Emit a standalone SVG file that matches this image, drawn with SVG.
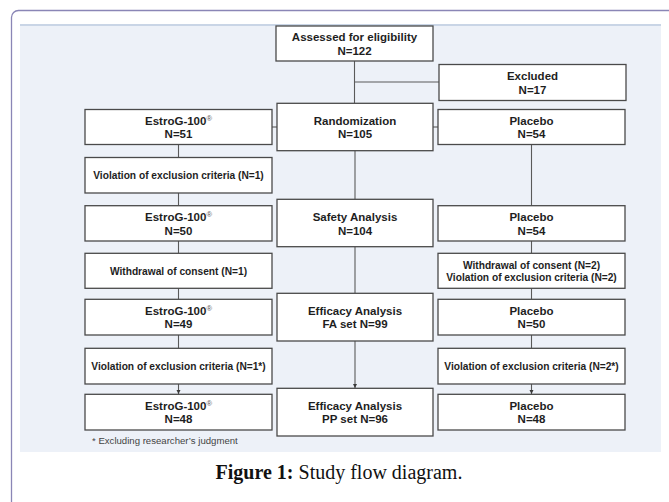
<svg xmlns="http://www.w3.org/2000/svg" width="669" height="502" viewBox="0 0 669 502">
<style>
.card{fill:#ffffff;stroke:#8a86b6;stroke-width:1.3}
.panel{fill:#edf1f8}
.panelTop{fill:#c9d5e6}
.box{fill:#ffffff;stroke:#4a4a4a;stroke-width:1.3}
.t{font-family:"Liberation Sans",Arial,sans-serif;font-weight:bold;font-size:11.5px;fill:#1e1e1e;text-anchor:middle}
.s{font-family:"Liberation Sans",Arial,sans-serif;font-weight:bold;font-size:10.2px;fill:#1e1e1e;text-anchor:middle}
.sup{font-size:7.5px;font-weight:normal;fill:#555}
.ln{fill:none;stroke:#5a5a5a;stroke-width:1.1}
.note{font-family:"Liberation Sans",Arial,sans-serif;font-size:9.6px;fill:#444}
.cap{font-family:"Liberation Serif","Times New Roman",serif;font-size:20px;fill:#111;text-anchor:middle}
</style>
<defs>
<marker id="arr" viewBox="0 0 6 6" refX="6" refY="3" markerWidth="4.5" markerHeight="4.5" orient="auto" markerUnits="userSpaceOnUse">
<path d="M0,0 L6,3 L0,6 Z" fill="#3a3a3a"/>
</marker>
</defs>
<rect class="card" x="11.5" y="10.5" width="680" height="520" rx="7"/>
<rect class="panel" x="20" y="24" width="641" height="428"/>
<rect class="panelTop" x="20" y="24" width="641" height="2"/>

<g id="connectors">
<path class="ln" d="M354.5,61 V103"/>
<path class="ln" d="M354.5,82 H439"/>
<path class="ln" d="M272,127 H277"/>
<path class="ln" d="M433,127 H438"/>
<path class="ln" d="M178.5,144.5 V157.5"/>
<path class="ln" d="M178.5,193 V205.7"/>
<path class="ln" d="M178.5,241 V253.3"/>
<path class="ln" d="M178.5,288.3 V299.3"/>
<path class="ln" d="M178.5,335 V348.3"/>
<path class="ln" d="M178.5,384 V394" marker-end="url(#arr)"/>
<path class="ln" d="M355,150.7 V199.3"/>
<path class="ln" d="M355,246.7 V293.3"/>
<path class="ln" d="M355,341 V388" marker-end="url(#arr)"/>
<path class="ln" d="M531.5,144.5 V205.7"/>
<path class="ln" d="M531.5,241 V253.3"/>
<path class="ln" d="M531.5,288.3 V299.3"/>
<path class="ln" d="M531.5,335 V348.3"/>
<path class="ln" d="M531.5,384 V394" marker-end="url(#arr)"/>
</g>

<g id="assessed">
<rect class="box" x="276" y="26" width="157" height="35"/>
<text class="t" x="354.5" y="41">Assessed for eligibility</text>
<text class="t" x="354.5" y="55">N=122</text>
</g>
<g id="excluded">
<rect class="box" x="439" y="64.5" width="187" height="36"/>
<text class="t" x="532.5" y="80">Excluded</text>
<text class="t" x="532.5" y="94">N=17</text>
</g>

<g id="estrog51">
<rect class="box" x="85" y="109.5" width="187" height="35"/>
<text class="t" x="178.5" y="124.7">EstroG-100<tspan class="sup" dy="-4">®</tspan></text>
<text class="t" x="178.5" y="138.3">N=51</text>
</g>
<g id="randomization">
<rect class="box" x="277" y="103.3" width="156" height="47.4"/>
<text class="t" x="355" y="124.7">Randomization</text>
<text class="t" x="355" y="138.3">N=105</text>
</g>
<g id="placebo54a">
<rect class="box" x="438" y="109.5" width="187" height="35"/>
<text class="t" x="531.5" y="124.7">Placebo</text>
<text class="t" x="531.5" y="138.3">N=54</text>
</g>

<g id="viol1">
<rect class="box" x="85" y="157.5" width="187" height="35.5"/>
<text class="s" x="178.5" y="178.8">Violation of exclusion criteria (N=1)</text>
</g>

<g id="estrog50">
<rect class="box" x="85" y="205.7" width="187" height="35.3"/>
<text class="t" x="178.5" y="221">EstroG-100<tspan class="sup" dy="-4">®</tspan></text>
<text class="t" x="178.5" y="234.6">N=50</text>
</g>
<g id="safety">
<rect class="box" x="277" y="199.3" width="156" height="47.4"/>
<text class="t" x="355" y="221">Safety Analysis</text>
<text class="t" x="355" y="234.6">N=104</text>
</g>
<g id="placebo54b">
<rect class="box" x="438" y="205.7" width="187" height="35.3"/>
<text class="t" x="531.5" y="221">Placebo</text>
<text class="t" x="531.5" y="234.6">N=54</text>
</g>

<g id="withdrawal1">
<rect class="box" x="85" y="253.3" width="187" height="35"/>
<text class="s" x="178.5" y="274.5">Withdrawal of consent (N=1)</text>
</g>
<g id="withdrawal2">
<rect class="box" x="438" y="253.3" width="187" height="35"/>
<text class="s" x="531.5" y="268.6">Withdrawal of consent (N=2)</text>
<text class="s" x="531.5" y="281">Violation of exclusion criteria (N=2)</text>
</g>

<g id="estrog49">
<rect class="box" x="85" y="299.3" width="187" height="35.7"/>
<text class="t" x="178.5" y="314.8">EstroG-100<tspan class="sup" dy="-4">®</tspan></text>
<text class="t" x="178.5" y="328.4">N=49</text>
</g>
<g id="efficacyFA">
<rect class="box" x="277" y="293.3" width="156" height="47.7"/>
<text class="t" x="355" y="314.8">Efficacy Analysis</text>
<text class="t" x="355" y="328.4">FA set N=99</text>
</g>
<g id="placebo50">
<rect class="box" x="438" y="299.3" width="187" height="35.7"/>
<text class="t" x="531.5" y="314.8">Placebo</text>
<text class="t" x="531.5" y="328.4">N=50</text>
</g>

<g id="viol1star">
<rect class="box" x="85" y="348.3" width="187" height="35.7"/>
<text class="s" x="178.5" y="369.8">Violation of exclusion criteria (N=1*)</text>
</g>
<g id="viol2star">
<rect class="box" x="438" y="348.3" width="187" height="35.7"/>
<text class="s" x="531.5" y="369.8">Violation of exclusion criteria (N=2*)</text>
</g>

<g id="estrog48">
<rect class="box" x="85" y="394.3" width="187" height="35.7"/>
<text class="t" x="178.5" y="409.8">EstroG-100<tspan class="sup" dy="-4">®</tspan></text>
<text class="t" x="178.5" y="423.4">N=48</text>
</g>
<g id="efficacyPP">
<rect class="box" x="277" y="388.3" width="156" height="47.7"/>
<text class="t" x="355" y="409.8">Efficacy Analysis</text>
<text class="t" x="355" y="423.4">PP set N=96</text>
</g>
<g id="placebo48">
<rect class="box" x="438" y="394.3" width="187" height="35.7"/>
<text class="t" x="531.5" y="409.8">Placebo</text>
<text class="t" x="531.5" y="423.4">N=48</text>
</g>

<text class="note" x="92" y="444">* Excluding researcher’s judgment</text>
<text class="cap" x="339" y="479"><tspan font-weight="bold">Figure 1:</tspan> Study flow diagram.</text>
</svg>
